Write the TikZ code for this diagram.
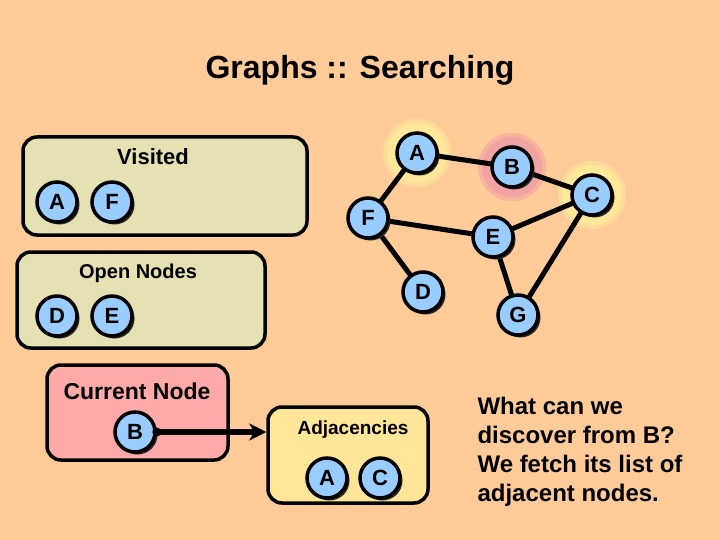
\documentclass[tikz,border=0pt]{standalone}
\usepackage{fontspec}
\setmainfont{Liberation Sans}
\usepackage{tikz}
\usetikzlibrary{arrows.meta}

\definecolor{slidebg}{HTML}{FFCC99}
\definecolor{nodeblue}{HTML}{99CCFF}
\definecolor{listkhaki}{HTML}{E5E1B3}
\definecolor{currpink}{HTML}{FFAAAA}
\definecolor{adjyellow}{HTML}{FFE699}
\definecolor{haloyellow}{HTML}{FFE89A}
\definecolor{halopink}{HTML}{F2A3A3}

\begin{document}
\begin{tikzpicture} [x = 1pt, y = -1pt,
    vert/.style = {circle, draw, line width = 3.5pt, fill = nodeblue, minimum size = 40pt,
      inner sep = 0pt, font = \fontsize{22}{22}\selectfont\bfseries,
      preaction = {fill = black!85, transform canvas = {shift = {(2.5pt,-2.5pt)}}}},
    panel/.style = {draw, line width = 3.5pt, rounded corners = 14pt},
    boxtitle/.style = {font = \fontsize{20}{20}\selectfont\bfseries},
    link/.style = {line width = 5pt},
    pointer/.style = {line width = 5.5pt, -{Stealth[length=17pt,width=17pt,inset=5pt]}}]
    \useasboundingbox [fill = slidebg] (0,0) rectangle (720,540);
    \node (title) at (360,70) {\fontsize{32}{32}\selectfont\bfseries Graphs :: Searching};
    % visited list
    \node [panel, fill = listkhaki, minimum width = 284pt, minimum height = 98pt] (visited) at (165,186) {};
    \node [boxtitle, font = \fontsize{22}{22}\selectfont\bfseries] (visitedlbl) at (153,157) {Visited};
    \node [vert] (vA) at (57,202) {A};
    \node [vert] (vF) at (112,202) {F};
    % open list
    \node [panel, fill = listkhaki, minimum width = 248pt, minimum height = 96pt] (open) at (141,300) {};
    \node [boxtitle] (openlbl) at (138,273) {Open Nodes};
    \node [vert] (oD) at (57,316) {D};
    \node [vert] (oE) at (112,316) {E};
    % current node
    \node [panel, fill = currpink, minimum width = 181pt, minimum height = 95pt] (current) at (137.5,412.5) {};
    \node [boxtitle, font = \fontsize{23}{23}\selectfont\bfseries] (currentlbl) at (137,391) {Current Node};
    \node [vert] (cB) at (135,432) {B};
    % adjacencies
    \node [panel, fill = adjyellow, minimum width = 160pt, minimum height = 96pt] (adj) at (348,455) {};
    \node [boxtitle, font = \fontsize{19}{19}\selectfont\bfseries] (adjlbl) at (353,430) {Adjacencies};
    \node [vert] (aA) at (327,478) {A};
    \node [vert] (aC) at (380,478) {C};
    \draw [pointer] (cB.east) -- (cB.east -| adj.west);
    \fill (cB.east) circle (4.5);
    % the graph
    \fill [haloyellow, opacity = 0.6] (417,153) circle (34);
    \fill [haloyellow] (417,153) circle (30);
    \fill [halopink, opacity = 0.6] (512,167) circle (34);
    \fill [halopink] (512,167) circle (30);
    \fill [haloyellow, opacity = 0.6] (592,195) circle (34);
    \fill [haloyellow] (592,195) circle (30);
    \coordinate (pA) at (417,153);
    \coordinate (pB) at (512,167);
    \coordinate (pC) at (592,195);
    \coordinate (pF) at (368,218);
    \coordinate (pE) at (493,237);
    \coordinate (pD) at (423,292);
    \coordinate (pG) at (518,315);
    \foreach \a/\b in {A/B, A/F, B/C, C/E, C/G, F/E, F/D, E/G}
      \draw [link] (p\a) -- (p\b);
    \foreach \n in {A, B, C, F, E, D, G}
      \node [vert] (g\n) at (p\n) {\n};
    % question text
    \node [anchor = west, align = left, font = \fontsize{24}{29}\selectfont\bfseries] (question) at (474,452)
      {What can we\\discover from B?\\We fetch its list of\\adjacent nodes.};
\end{tikzpicture}
\end{document}
